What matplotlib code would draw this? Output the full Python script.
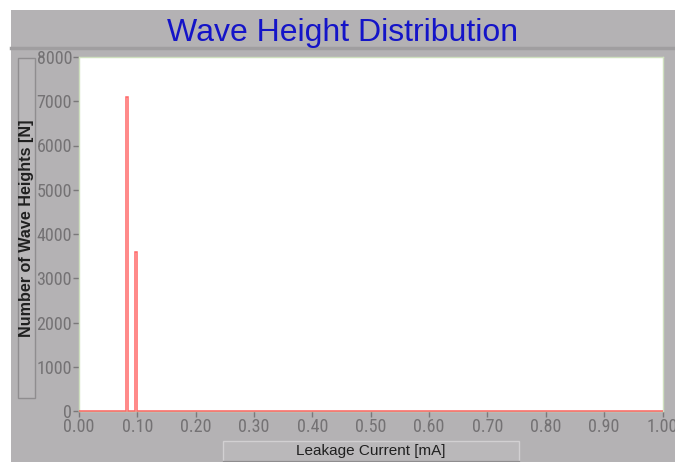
import numpy as np
import matplotlib
matplotlib.use("Agg")
import matplotlib.pyplot as plt
from matplotlib.patches import Rectangle
from matplotlib.lines import Line2D
from matplotlib import font_manager

# Histogram of wave heights: only two bins are populated
bin_width = 0.004
bin_left = [0.080, 0.098]          # leakage current [mA], left edge of populated bins
bin_counts = [7100, 3600]          # number of wave heights [N]

x_ticks = [0.0, 0.1, 0.2, 0.3, 0.4, 0.5, 0.6, 0.7, 0.8, 0.9, 1.0]
y_ticks = [0, 1000, 2000, 3000, 4000, 5000, 6000, 7000, 8000]

title_text = "Wave Height Distribution"
x_label = "Leakage Current [mA]"
y_label = "Number of Wave Heights [N]"

W, H = 675, 462
PANEL = "#b4b2b4"

# pick a condensed face for the tick labels if one is installed
fonts = font_manager.fontManager.ttflist
names = {f.name for f in fonts}
tick_font = dict(family="Liberation Sans", size=10.5, stretch="normal")
for cand in ["Liberation Sans Narrow", "Roboto Condensed", "Open Sans Condensed",
             "DejaVu Sans Condensed"]:
    if cand in names:
        tick_font = dict(family=cand, size=13, stretch="normal")
        break
else:
    if any(f.name == "DejaVu Sans" and f.stretch in ("condensed", "semi-condensed")
           for f in fonts):
        tick_font = dict(family="DejaVu Sans", size=11.5, stretch="condensed")


def fx(px):
    return px / W


def fy(py):
    return (H - py) / H


fig = plt.figure(figsize=(W / 100, H / 100), dpi=100)
fig.patch.set_facecolor("white")

# grey panel and separator under the title band
fig.patches.append(Rectangle((fx(11), 0), 1 - fx(11), fy(10), transform=fig.transFigure,
                             facecolor=PANEL, edgecolor="none", zorder=-5))
fig.add_artist(Line2D([fx(11), 1], [fy(48), fy(48)], transform=fig.transFigure,
                      color="#a09ea0", lw=2.5, zorder=1))

fig.text(0.5 * (fx(11) + 1), fy(41), title_text, ha="center", va="baseline",
         color="#1414c8", fontsize=23, family="Liberation Sans")

# y-label button
fig.patches.append(Rectangle((fx(18), fy(398)), fx(35) - fx(18), fy(58) - fy(398),
                             transform=fig.transFigure, facecolor="#b9b7b9",
                             edgecolor="#8f8d8f", lw=1, zorder=1))
fig.text(fx(26.5), fy(228), y_label, rotation=90, ha="center", va="center",
         color="#202020", fontsize=11.6, family="Liberation Sans", fontweight="bold")

# x-label button
fig.patches.append(Rectangle((fx(223), fy(461)), fx(519) - fx(223), fy(441) - fy(461),
                             transform=fig.transFigure, facecolor="#bab8ba",
                             edgecolor="#d2d0d2", lw=1, zorder=1))
fig.add_artist(Line2D([fx(223), fx(519)], [fy(461), fy(461)], transform=fig.transFigure,
                      color="#8f8d8f", lw=1, zorder=2))
fig.text(fx(371), fy(451), x_label, ha="center", va="center",
         color="#202020", fontsize=11, family="Liberation Sans")

ax = fig.add_axes([fx(79), fy(411), fx(662.5) - fx(79), fy(57) - fy(411)])
ax.set_zorder(3)
ax.set_facecolor("white")

edges = np.arange(0, 1 + bin_width / 2, bin_width)
values = np.zeros(len(edges) - 1)
for left, c in zip(bin_left, bin_counts):
    values[int(round(left / bin_width))] = c
ax.stairs(values, edges, baseline=0, color="#ff4c4c", alpha=0.85, lw=1.1,
          clip_on=False, zorder=3)

ax.set_xlim(0, 1)
ax.set_ylim(0, 8000)
ax.set_xticks(x_ticks)
ax.set_xticklabels([f"{v:.2f}" for v in x_ticks])
ax.set_yticks(y_ticks)
ax.set_yticklabels([str(v) for v in y_ticks])
ax.tick_params(direction="out", length=4, width=1, color="#7a787a",
               labelcolor="#747274", pad=1)
for lab in ax.get_xticklabels() + ax.get_yticklabels():
    lab.set_family(tick_font["family"])
    lab.set_size(tick_font["size"])
    lab.set_stretch(tick_font["stretch"])
for s in ax.spines.values():
    s.set_color("#cfe0bf")
    s.set_linewidth(1)

fig.savefig("out.png", dpi=100)
